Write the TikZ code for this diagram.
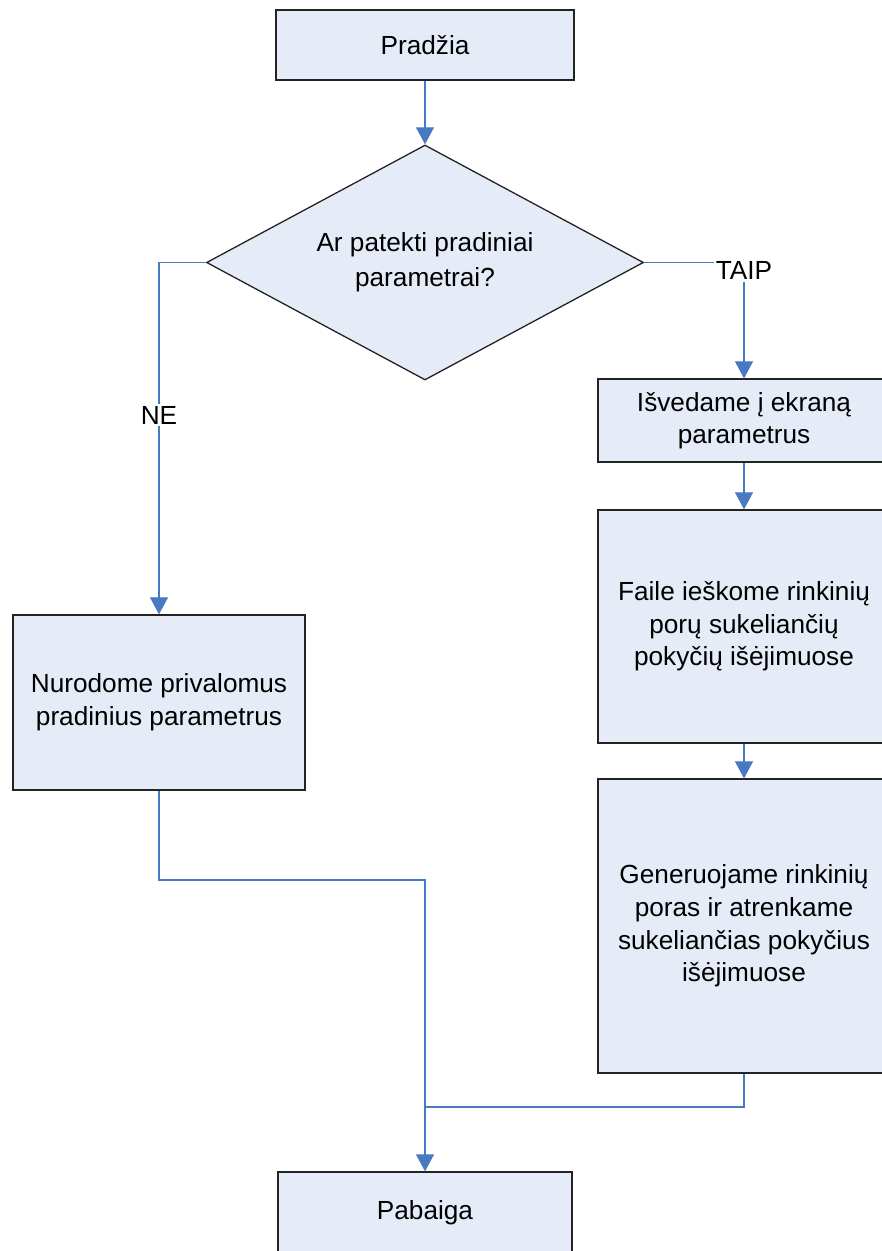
\documentclass[tikz,border=0pt]{standalone}
\usepackage{fontspec}
\setmainfont{Liberation Sans}
\usetikzlibrary{shapes.geometric}
\usetikzlibrary{arrows.meta}

\begin{document}
\begin{tikzpicture}[x=0.5pt,y=-0.5pt,>={Triangle[width=9pt,length=8.5pt]},font=\fontsize{13.1pt}{16.3pt}\selectfont,process box/.style={draw=boxline,fill=boxfill,line width=0.65pt,minimum width=146pt,inner sep=0pt,align=center},decision/.style={diamond,draw=boxline,fill=boxfill,line width=0.65pt,minimum width=218.5pt,minimum height=117.5pt,shape aspect=1.86,inner sep=0pt,align=center},flow line/.style={draw=flowcolor,line width=0.6pt},branch text/.style={fill=white,inner sep=1pt}]
 \definecolor{boxfill}{RGB}{230,236,247}
 \definecolor{boxline}{RGB}{35,35,35}
 \definecolor{flowcolor}{RGB}{72,122,196}

 \clip (0,0) rectangle (882,1251);

 \node[process box,minimum width=149pt,minimum height=35pt] (start) at (425,45) {Pradžia};
 \node[decision] (params) at (425,262.5) {Ar patekti pradiniai\\[1pt]parametrai?};
 \node[process box,minimum height=41.5pt] (show) at (744,420.5) {Išvedame į ekraną\\parametrus};
 \node[process box,minimum height=116.5pt] (search) at (744,626.5) {Faile ieškome rinkinių\\porų sukeliančių\\pokyčių išėjimuose};
 \node[process box,minimum height=147pt] (generate) at (744,926) {Generuojame rinkinių\\poras ir atrenkame\\sukeliančias pokyčius\\išėjimuose};
 \node[process box,minimum height=87.5pt] (mandatory) at (159,702.5) {Nurodome privalomus\\pradinius parametrus};
 \node[process box,minimum width=147pt,minimum height=41pt] (finish) at (425,1213) {Pabaiga};

 \coordinate (left bend) at (159,880);
 \coordinate (join) at (425,1107);

 \draw[flow line,->] (start) -- (params);
 \draw[flow line,->] (params.west) -| node[pos=0.717,branch text] {NE} (mandatory.north);
 \draw[flow line,->] (params.east) -| node[pos=0.5,branch text,yshift=-4pt] {TAIP} (show.north);
 \draw[flow line,->] (show) -- (search);
 \draw[flow line,->] (search) -- (generate);
 \draw[flow line,->] (mandatory.south) -- (left bend) -| (finish.north);
 \draw[flow line] (generate.south) |- (join);
\end{tikzpicture}
\end{document}
